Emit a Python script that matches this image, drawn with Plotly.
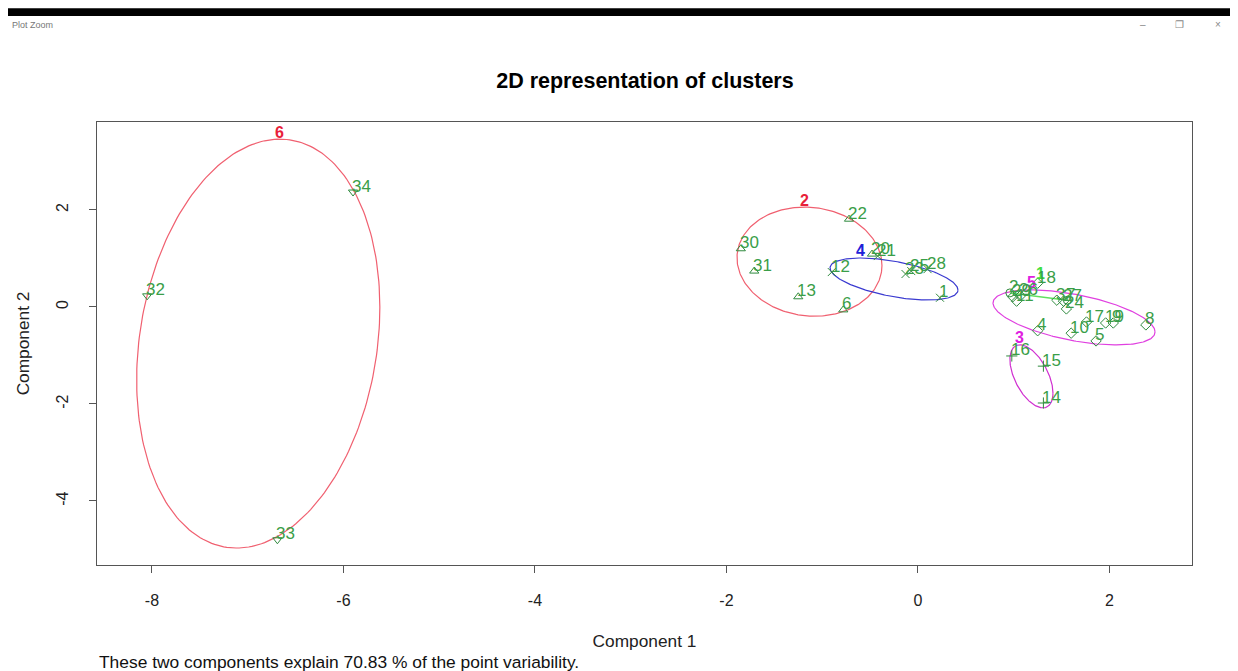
import numpy as np
import plotly.graph_objects as go

# ---------------- data ----------------
point_ids = [32, 34, 33,
             22, 30, 31, 13, 6, 20,
             12, 1, 21, 23, 25, 28,
             29, 26, 11, 18, 3, 27, 24, 4, 10, 17, 19, 9, 5, 8,
             16, 15, 14,
             2, 7]
comp1 = [-8.05, -5.90, -6.69,
         -0.72, -1.85, -1.71, -1.25, -0.78, -0.48,
         -0.90, 0.23, -0.42, -0.13, -0.07, 0.10,
         0.99, 1.07, 1.03, 1.25, 1.45, 1.52, 1.55, 1.25, 1.60, 1.76, 1.96, 2.04, 1.86, 2.38,
         0.98, 1.31, 1.31,
         0.96, 1.56]
comp2 = [0.23, 2.37, -4.80,
         1.81, 1.20, 0.74, 0.21, -0.06, 1.09,
         0.72, 0.19, 1.05, 0.68, 0.74, 0.78,
         0.21, 0.23, 0.12, 0.49, 0.14, 0.12, -0.04, -0.49, -0.54, -0.31, -0.33, -0.33, -0.70, -0.37,
         -1.01, -1.22, -1.98,
         0.29, 0.14]
cluster = [6, 6, 6,
           2, 2, 2, 2, 2, 2,
           4, 4, 4, 4, 4, 4,
           5, 5, 5, 5, 5, 5, 5, 5, 5, 5, 5, 5, 5, 5,
           3, 3, 3,
           1, 1]

# ellipses: centre, half-extent along x / y and covariance term
ell_cluster = [6, 2, 4, 5, 3]
ell_cx = [-6.89, -1.133, -0.25, 1.63, 1.185]
ell_cy = [-0.755, 0.935, 0.577, -0.216, -1.43]
ell_sx = [1.27, 0.757, 0.668, 0.846, 0.225]
ell_sy = [4.215, 1.125, 0.433, 0.567, 0.65]
ell_sxy = [0.95, -0.06, -0.152, -0.252, -0.078]

x_tickvals = [-8, -6, -4, -2, 0, 2]
x_ticktext = ["-8", "-6", "-4", "-2", "0", "2"]
y_tickvals = [-4, -2, 0, 2]
y_ticktext = ["-4", "-2", "0", "2"]

title_text = "2D representation of clusters"
subtitle_text = "These two components explain 70.83 % of the point variability."

# ---------------- styles ----------------
clus_color = {6: "#e8203a", 2: "#e8203a", 4: "#2020d8", 5: "#e020e0", 3: "#e020e0", 1: "#3ee03e"}
line_color = {6: "#f06070", 2: "#f06070", 4: "#3a3ad0", 5: "#e040e0", 3: "#d030d0", 1: "#60e060"}
symbols = {6: "triangle-down-open", 2: "triangle-up-open", 4: "x-thin-open",
           5: "diamond-open", 3: "cross-thin-open", 1: "circle-open"}
pt_color = "#2f8a3e"
txt_color = "#3a9e48"
FONT = "Liberation Sans, Arial, sans-serif"

fig = go.Figure()
annotations = []

# ellipses
t = np.linspace(0, 2 * np.pi, 241)
for k, cx, cy, sx, sy, sxy in zip(ell_cluster, ell_cx, ell_cy, ell_sx, ell_sy, ell_sxy):
    S = np.array([[sx ** 2, sxy], [sxy, sy ** 2]])
    L = np.linalg.cholesky(S)
    pts = L @ np.vstack([np.cos(t), np.sin(t)])
    fig.add_trace(go.Scatter(x=cx + pts[0], y=cy + pts[1], mode="lines",
                             line=dict(color=line_color[k], width=1.2),
                             hoverinfo="skip", showlegend=False))
    # cluster label at the top of the ellipse
    annotations.append(dict(x=cx + sxy / sy, y=cy + sy, xref="x", yref="y",
                            text="<b>%d</b>" % k, showarrow=False, yshift=7,
                            font=dict(family=FONT, size=16, color=clus_color[k])))

# two-point cluster drawn as a segment
seg_x = [c1 for c1, k in zip(comp1, cluster) if k == 1]
seg_y = [c2 for c2, k in zip(comp2, cluster) if k == 1]
fig.add_trace(go.Scatter(x=seg_x, y=seg_y, mode="lines",
                         line=dict(color=line_color[1], width=1.5),
                         hoverinfo="skip", showlegend=False))
annotations.append(dict(x=float(np.mean(seg_x)), y=float(np.mean(seg_y)), xref="x", yref="y",
                        text="<b>1</b>", showarrow=False, yshift=23, xshift=2,
                        font=dict(family=FONT, size=16, color=clus_color[1])))

# points by cluster
for k in [6, 2, 4, 5, 3, 1]:
    xs = [a for a, c in zip(comp1, cluster) if c == k]
    ys = [b for b, c in zip(comp2, cluster) if c == k]
    fig.add_trace(go.Scatter(x=xs, y=ys, mode="markers",
                             marker=dict(symbol=symbols[k], size=8, color=pt_color,
                                         line=dict(color=pt_color, width=1)),
                             showlegend=False))

# point labels
for pid, a, b in zip(point_ids, comp1, comp2):
    annotations.append(dict(x=a, y=b, xref="x", yref="y", text=str(pid), showarrow=False,
                            xanchor="left", yanchor="middle", xshift=-3, yshift=6,
                            font=dict(family=FONT, size=17, color=txt_color)))

# subtitle
annotations.append(dict(x=0, y=-0.219, xref="paper", yref="paper", text=subtitle_text,
                        showarrow=False, xanchor="left", yanchor="middle",
                        font=dict(family=FONT, size=17.4, color="#111")))

# window chrome of the screenshot
annotations.append(dict(x=-0.079, y=1.219, xref="paper", yref="paper", text="Plot Zoom",
                        showarrow=False, xanchor="left", yanchor="middle",
                        font=dict(family=FONT, size=9, color="#777")))
for xp, ch in [(0.955, "\u2013"), (0.989, "\u2750"), (1.0237, "\u00d7")]:
    annotations.append(dict(x=xp, y=1.219, xref="paper", yref="paper", text=ch,
                            showarrow=False, xanchor="center", yanchor="middle",
                            font=dict(family=FONT, size=10, color="#888")))

shapes = [dict(type="rect", xref="paper", yref="paper", x0=-0.1, x1=1.06,
               y0=1.2395, y1=1.2565, fillcolor="black", line=dict(width=0), layer="above")]

axis_common = dict(showgrid=False, zeroline=False, showline=True, mirror=True,
                   linecolor="#555", linewidth=1, ticks="outside", ticklen=7,
                   tickcolor="#555", tickfont=dict(family=FONT, size=16, color="#222"))

fig.update_layout(
    width=1238, height=671,
    margin=dict(l=89, r=54, t=114, b=114),
    paper_bgcolor="white", plot_bgcolor="white",
    title=dict(text="<b>" + title_text + "</b>", x=0.5145, xanchor="center",
               y=0.8927, yanchor="middle",
               font=dict(family=FONT, size=21.5, color="black")),
    xaxis=dict(range=[-8.574, 2.862], tickvals=x_tickvals, ticktext=x_ticktext,
               ticklabelstandoff=14,
               title=dict(text="Component 1", standoff=26,
                          font=dict(family=FONT, size=17.3, color="#222")),
               **axis_common),
    yaxis=dict(range=[-5.32, 3.814], tickvals=y_tickvals, ticktext=y_ticktext,
               tickangle=-90, ticklabelstandoff=15,
               title=dict(text="Component 2", standoff=19,
                          font=dict(family=FONT, size=17.3, color="#222")),
               **axis_common),
    annotations=annotations,
    shapes=shapes,
    showlegend=False,
)

fig.write_html("out.html")
